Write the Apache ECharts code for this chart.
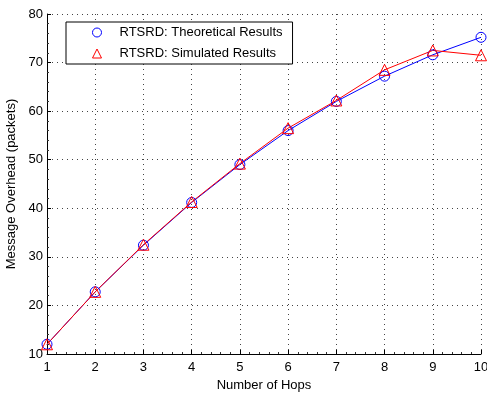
<!DOCTYPE html>
<html>
<head>
<meta charset="utf-8">
<script src="https://cdn.jsdelivr.net/npm/echarts@6/dist/echarts.min.js"></script>
<style>
  html, body { margin: 0; padding: 0; background: #fff; }
  #chart { width: 487px; height: 394px; }
</style>
</head>
<body>
<div id="chart"></div>
<script>
// Number of hops along the route
const hops = [1, 2, 3, 4, 5, 6, 7, 8, 9, 10];
// Message overhead (packets) per hop count
const theoretical = [12.0, 22.8, 32.4, 41.2, 49.0, 56.0, 62.0, 67.2, 71.6, 75.2];
const simulated   = [12.0, 22.8, 32.5, 41.3, 49.2, 56.5, 62.2, 68.5, 72.5, 71.5];

const seriesNames = ['RTSRD: Theoretical Results', 'RTSRD: Simulated Results'];

const font = 'Liberation Sans, Arial, sans-serif';
const pair = (ys) => hops.map((x, i) => [x, ys[i]]);

const chart = echarts.init(document.getElementById('chart'), null, { renderer: 'canvas' });

const axisCommon = {
  axisLine: { show: true, lineStyle: { color: '#000', width: 1 } },
  axisTick: { show: true, inside: true, length: 4, lineStyle: { color: '#000' } },
  minorTick: { show: true, splitNumber: 5, length: 2, lineStyle: { color: '#333' } },
  axisLabel: { color: '#000', fontFamily: font, fontSize: 13 },
  splitLine: { show: true, lineStyle: { color: '#444', type: [1, 4], width: 1 } },
  nameTextStyle: { color: '#000', fontFamily: font, fontSize: 13 }
};

chart.setOption({
  animation: false,
  backgroundColor: '#fff',
  grid: { left: 47, right: 6, top: 14, bottom: 40, containLabel: false, outerBoundsMode: 'none' },
  xAxis: Object.assign({}, axisCommon, {
    type: 'value', min: 1, max: 10, interval: 1,
    name: 'Number of Hops', nameLocation: 'middle', nameGap: 21,
    axisLabel: Object.assign({}, axisCommon.axisLabel, { margin: 7 })
  }),
  yAxis: Object.assign({}, axisCommon, {
    type: 'value', min: 10, max: 80, interval: 10,
    name: 'Message Overhead (packets)', nameLocation: 'middle', nameGap: 25,
    axisLabel: Object.assign({}, axisCommon.axisLabel, { margin: 4 })
  }),
  legend: {
    left: 66, top: 22,
    orient: 'vertical',
    padding: [4, 10, 4, 26],
    itemWidth: 9, itemHeight: 9, itemGap: 8,
    backgroundColor: '#fff',
    borderColor: '#000', borderWidth: 1, borderRadius: 0,
    textStyle: { color: '#000', fontFamily: font, fontSize: 13, padding: [0, 0, 0, 13] },
    data: [
      { name: seriesNames[0], icon: 'circle',
        itemStyle: { color: 'transparent', borderColor: '#0000ff', borderWidth: 1 } },
      { name: seriesNames[1], icon: 'triangle',
        itemStyle: { color: 'transparent', borderColor: '#ff0000', borderWidth: 1 } }
    ]
  },
  series: [
    {
      name: seriesNames[0], type: 'line', data: pair(theoretical),
      symbol: 'circle', symbolSize: 10,
      lineStyle: { color: '#0000ff', width: 1 },
      itemStyle: { color: 'transparent', borderColor: '#0000ff', borderWidth: 1 }
    },
    {
      name: seriesNames[1], type: 'line', data: pair(simulated),
      symbol: 'triangle', symbolSize: 11,
      lineStyle: { color: '#ff0000', width: 1 },
      itemStyle: { color: 'transparent', borderColor: '#ff0000', borderWidth: 1 }
    }
  ]
});
</script>
</body>
</html>
